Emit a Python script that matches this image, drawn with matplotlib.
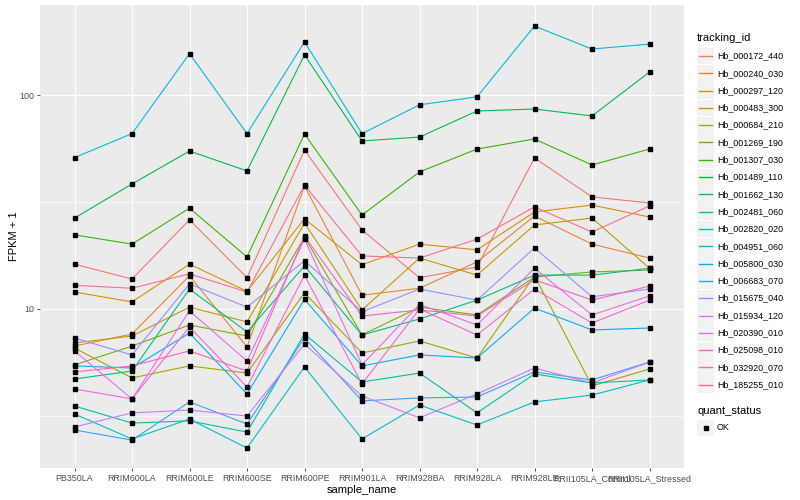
import matplotlib
matplotlib.use('Agg')
import matplotlib.pyplot as plt
from matplotlib.lines import Line2D
from matplotlib.patches import Rectangle
import numpy as np

plt.rcParams['font.family'] = ['Liberation Sans', 'DejaVu Sans']

''' Datos leidos del grafico '''
samples = ['PB350LA', 'RRIM600LA', 'RRIM600LE', 'RRIM600SE', 'RRIM600PE', 'RRIM901LA',
           'RRIM928BA', 'RRIM928LA', 'RRIM928LE', 'RRII105LA_Control', 'RRII105LA_Stressed']

genes = ['Hb_000172_440', 'Hb_000240_030', 'Hb_000297_120', 'Hb_000483_300',
         'Hb_000684_210', 'Hb_001269_190', 'Hb_001307_030', 'Hb_001489_110',
         'Hb_001662_130', 'Hb_002481_060', 'Hb_002820_020', 'Hb_004951_060',
         'Hb_005800_030', 'Hb_006683_070', 'Hb_015675_040', 'Hb_015934_120',
         'Hb_020390_010', 'Hb_025098_010', 'Hb_032920_070', 'Hb_185255_010']

# FPKM + 1 por gen
hb_000172_440 = [16.2, 13.8, 26.1, 14.0, 55.3, 23.4, 14.0, 15.7, 50.8, 33.4, 31.3]
hb_000240_030 = [6.71, 7.64, 14.3, 6.65, 37.6, 11.6, 12.5, 16.6, 27.2, 20.1, 17.3]
hb_000297_120 = [12.0, 10.8, 16.2, 12.1, 26.4, 16.1, 20.1, 18.9, 28.4, 30.6, 26.9]
hb_000483_300 = [6.94, 7.48, 10.2, 8.70, 25.2, 9.90, 17.3, 14.4, 24.7, 26.6, 15.5]
hb_000684_210 = [6.57, 4.76, 5.42, 5.02, 11.9, 6.23, 7.09, 5.90, 14.3, 4.37, 5.24]
hb_001269_190 = [5.48, 6.71, 8.42, 7.48, 21.7, 7.56, 10.2, 9.38, 14.1, 14.9, 15.2]
hb_001307_030 = [22.2, 20.1, 29.6, 17.5, 65.7, 27.5, 43.7, 55.9, 62.3, 47.1, 55.9]
hb_001489_110 = [26.6, 38.4, 54.7, 44.2, 154.0, 61.0, 63.6, 84.2, 86.0, 79.8, 128.0]
hb_001662_130 = [4.71, 5.13, 12.4, 7.81, 15.9, 7.56, 8.98, 11.0, 14.4, 14.4, 15.5]
hb_002481_060 = [3.52, 2.93, 3.00, 2.66, 7.64, 4.56, 5.02, 3.27, 4.97, 4.51, 4.66]
hb_002820_020 = [3.23, 2.47, 3.06, 2.24, 5.36, 2.47, 3.56, 2.87, 3.68, 3.96, 4.66]
hb_004951_060 = [51.0, 66.0, 156.0, 66.0, 177.0, 66.0, 90.0, 98.0, 210.0, 164.0, 173.0]
hb_005800_030 = [5.42, 5.30, 7.72, 4.01, 11.1, 5.42, 6.10, 5.90, 10.1, 7.98, 8.15]
hb_006683_070 = [2.72, 2.44, 3.68, 2.90, 7.32, 3.72, 3.84, 3.88, 5.08, 4.66, 5.65]
hb_015675_040 = [7.32, 6.10, 13.1, 10.2, 16.8, 9.70, 12.4, 11.0, 19.3, 11.4, 12.4]
hb_015934_120 = [2.81, 3.27, 3.37, 3.16, 6.86, 3.92, 3.10, 4.01, 5.30, 4.51, 5.65]
hb_020390_010 = [6.37, 3.80, 9.80, 5.71, 21.2, 5.48, 10.5, 8.42, 15.5, 9.38, 11.5]
hb_025098_010 = [4.23, 3.80, 8.24, 4.32, 14.4, 4.46, 10.0, 7.56, 12.4, 8.60, 11.0]
hb_032920_070 = [5.08, 5.42, 6.37, 5.13, 21.9, 9.27, 9.90, 9.27, 13.7, 11.0, 12.8]
hb_185255_010 = [12.9, 12.5, 14.6, 12.0, 37.9, 17.7, 17.3, 21.2, 30.0, 22.9, 30.3]

series = [hb_000172_440, hb_000240_030, hb_000297_120, hb_000483_300, hb_000684_210,
          hb_001269_190, hb_001307_030, hb_001489_110, hb_001662_130, hb_002481_060,
          hb_002820_020, hb_004951_060, hb_005800_030, hb_006683_070, hb_015675_040,
          hb_015934_120, hb_020390_010, hb_025098_010, hb_032920_070, hb_185255_010]

# paleta hue de ggplot para 20 niveles
colores = ['#F8766D', '#EA8331', '#D89000', '#C09B00', '#A3A500', '#7CAE00', '#39B600',
           '#00BB4E', '#00BF7D', '#00C1A3', '#00BFC4', '#00BAE0', '#00B0F6', '#35A2FF',
           '#9590FF', '#C77CFF', '#E76BF3', '#FA62DB', '#FF62BC', '#FF6C91']

''' Grafico '''
fig = plt.figure(figsize=(8, 5), dpi=100)
ax = fig.add_axes([40 / 800, 1 - 468 / 500, 644 / 800, 463 / 500])
ax.set_facecolor('#EBEBEB')

x = np.arange(len(samples))
for valores, color in zip(series, colores):
    ax.plot(x, valores, '-', color=color, linewidth=0.8, zorder=3)
for valores in series:
    ax.plot(x, valores, 's', color='black', markersize=2.4, zorder=4)

ax.set_yscale('log')
ax.set_ylim(1.807, 263.4)
ax.set_xlim(-0.6, 10.6)
ax.set_yticks([10, 100])
ax.set_yticklabels(['10', '100'])
ax.set_yticks([10 ** 0.5, 10 ** 1.5], minor=True)
ax.set_yticklabels([], minor=True)
ax.set_xticks(x)
ax.set_xticklabels(samples)

ax.grid(True, which='major', color='white', linewidth=0.85, zorder=1)
ax.grid(True, which='minor', axis='y', color='white', linewidth=0.45, zorder=1)
ax.set_axisbelow(True)
for s in ax.spines.values():
    s.set_visible(False)
ax.tick_params(which='major', length=2.2, width=0.6, color='#333333',
               labelsize=6.4, labelcolor='#4D4D4D', pad=2)
ax.tick_params(which='minor', length=0)

ax.set_xlabel('sample_name', fontsize=8)
ax.set_ylabel('FPKM + 1', fontsize=8)
ax.xaxis.set_label_coords(0.5, -17 / 463)
ax.yaxis.set_label_coords(-21 / 644, 0.5)

''' Leyendas '''
fig.text(697 / 800, 1 - 38 / 500, 'tracking_id', fontsize=8, va='center', ha='left')
for i, (gen, color) in enumerate(zip(genes, colores)):
    yc = 56 + 17.3 * i
    fig.add_artist(Rectangle((697 / 800, 1 - (yc + 8.4) / 500), 17 / 800, 16.8 / 500,
                             transform=fig.transFigure, facecolor='#F2F2F2',
                             edgecolor='none', zorder=1))
    fig.add_artist(Line2D([699 / 800, 712 / 800], [1 - yc / 500, 1 - yc / 500],
                          transform=fig.transFigure, color=color, linewidth=1.0, zorder=2))
    fig.text(717 / 800, 1 - yc / 500, gen, fontsize=6.4, va='center', ha='left')

fig.text(697 / 800, 1 - 411 / 500, 'quant_status', fontsize=8, va='center', ha='left')
fig.add_artist(Rectangle((697 / 800, 1 - (428 + 8.4) / 500), 17 / 800, 16.8 / 500,
                         transform=fig.transFigure, facecolor='#F2F2F2', edgecolor='none'))
fig.add_artist(Line2D([705.5 / 800], [1 - 428 / 500], transform=fig.transFigure,
                      marker='s', color='black', markersize=2.4, linestyle='none'))
fig.text(717 / 800, 1 - 428 / 500, 'OK', fontsize=6.4, va='center', ha='left')

plt.savefig('out.png', dpi=100)
